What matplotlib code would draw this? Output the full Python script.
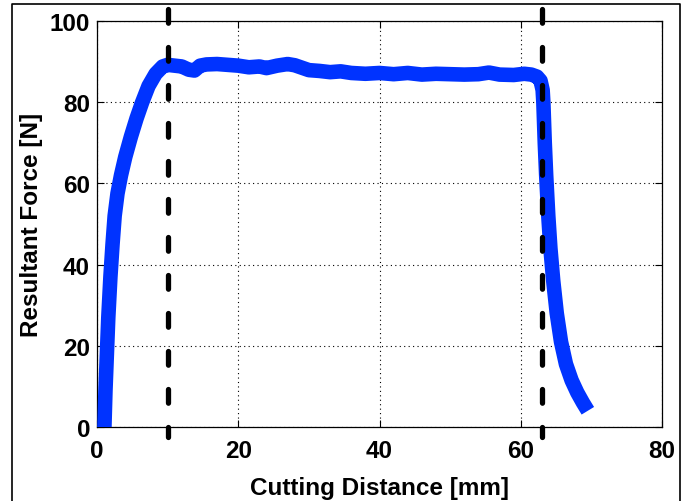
import matplotlib.pyplot as plt
from matplotlib.lines import Line2D

# cutting force trace
distance = [1.0, 1.05, 1.2, 1.4, 1.6, 1.9, 2.2, 2.5, 2.9, 3.4, 4.0, 4.8, 5.6, 6.4,
            7.3, 8.3, 9.3, 10.0, 11.0, 12.0, 13.0, 13.8, 14.6, 15.5, 17.0, 18.5,
            20.0, 21.5, 23.0, 24.0, 25.5, 27.0, 28.0, 29.0, 30.0, 31.5, 33.0,
            34.5, 36.0, 38.0, 40.0, 42.0, 44.0, 46.0, 48.0, 50.0, 52.0, 54.0,
            55.5, 57.0, 59.0, 60.5, 61.5, 62.3, 62.8, 63.1, 63.2, 63.4, 63.6,
            63.9, 64.2, 64.6, 65.1, 65.7, 66.4, 67.2, 68.0, 68.8, 69.5]
force = [-2.0, 0.0, 9.0, 18.0, 27.0, 37.0, 45.0, 52.0, 57.5, 62.0, 66.5, 71.5,
         76.0, 80.0, 84.0, 87.0, 88.8, 89.2, 89.0, 88.8, 88.0, 87.8, 89.0, 89.3,
         89.4, 89.2, 89.0, 88.6, 88.8, 88.4, 89.0, 89.4, 89.1, 88.5, 87.9, 87.7,
         87.4, 87.6, 87.2, 87.0, 87.2, 86.9, 87.2, 86.8, 87.0, 86.9, 86.8, 86.9,
         87.3, 86.8, 86.7, 87.0, 86.8, 86.3, 85.3, 83.0, 80.0, 70.0, 62.0, 52.0,
         44.0, 36.0, 28.0, 21.0, 15.5, 11.5, 8.5, 6.0, 4.0]

# boundaries of the steady cutting region
boundaries = [10, 63]

x_ticks = [0, 20, 40, 60, 80]
y_ticks = [0, 20, 40, 60, 80, 100]


def plot_force(out_path):
    plt.rcParams['font.family'] = ['Liberation Sans', 'DejaVu Sans']
    plt.rcParams['font.weight'] = 'bold'

    fig = plt.figure(figsize=(6.86, 5.02), dpi=100)
    ax = fig.add_axes([97 / 686, 74 / 502, 565 / 686, 406 / 502])

    ax.plot(distance, force, color='#0033ff', linewidth=10.5,
            solid_capstyle='butt', solid_joinstyle='round', zorder=3)

    for b in boundaries:
        ax.plot([b, b], [103, -2.5], color='black', linewidth=3.8,
                linestyle=(0, (2.6, 4.6)), dash_capstyle='round',
                clip_on=False, zorder=4)

    ax.set_xlim(0, 80)
    ax.set_ylim(0, 100)
    ax.set_xticks(x_ticks)
    ax.set_yticks(y_ticks)
    ax.tick_params(direction='in', length=5, width=0.8, top=True, right=True,
                   labelsize=17.5, pad=5)
    ax.tick_params(axis='x', pad=9)
    ax.grid(True, color='black', linestyle=(0, (1, 3)), linewidth=0.8)
    for s in ax.spines.values():
        s.set_linewidth(0.9)

    ax.set_xlabel('Cutting Distance [mm]', fontsize=17.5, fontweight='bold',
                  labelpad=10)
    ax.set_ylabel('Resultant Force [N]', fontsize=17.5, fontweight='bold',
                  labelpad=5)

    # outer frame around the figure (bottom edge lies off the image)
    fig.add_artist(Line2D([12 / 686, 12 / 686, 680 / 686, 680 / 686],
                          [-0.05, 1 - 5 / 502, 1 - 5 / 502, -0.05],
                          transform=fig.transFigure, color='black',
                          linewidth=1.2))

    plt.savefig(out_path, dpi=100)
    plt.close()


plot_force('out.png')
